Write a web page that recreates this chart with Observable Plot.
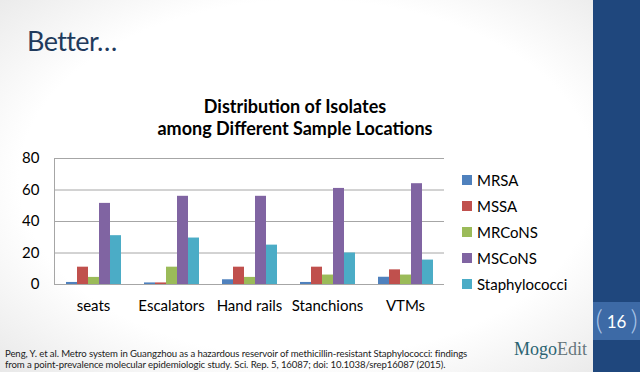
<!DOCTYPE html>
<html>
<head>
<meta charset="utf-8">
<script src="https://cdn.jsdelivr.net/npm/d3@7"></script>
<script src="https://cdn.jsdelivr.net/npm/@observablehq/plot@0.6"></script>
<style>
  html, body { margin: 0; padding: 0; }
  body {
    width: 640px; height: 372px; overflow: hidden; position: relative;
    font-family: Lato, "Open Sans", sans-serif;
    background: radial-gradient(ellipse 75% 80% at 48% 48%, #ffffff 60%, #e2e2e2 100%);
  }
  .abs { position: absolute; white-space: nowrap; }
  #slideTitle { left: 27px; top: 27px; font-size: 27px; letter-spacing: -0.6px; line-height: 1; color: #1f3a5c; }
  #chartTitle { left: 150px; width: 290px; top: 95px; text-align: center; font-weight: 700; font-size: 18px; line-height: 22px; color: #000; }
  #chart { left: 0; top: 140px; }
  #legend { left: 462px; top: 167px; font-size: 15px; color: #000; }
  #legend .row { height: 26px; display: flex; align-items: center; }
  #legend .sw { width: 10px; height: 10px; margin-right: 5px; }
  #cite { left: 5px; top: 348px; font-size: 9.6px; line-height: 11px; color: #222; letter-spacing: -0.1px; }
  #sidebar { left: 593px; top: 0; width: 47px; height: 372px; background: #1f477d; }
  #band { left: 593px; top: 302px; width: 47px; height: 38px; background: #3d6aa6; }
  #pg { left: 593px; top: 302px; width: 47px; height: 38px; color: #fff; font-size: 17px; display: flex; align-items: center; justify-content: center; }
  #pg .br { color: #a9c4e6; font-size: 28px; font-weight: 300; margin: 0 4px; position: relative; top: -2px; }
  #logo { left: 514px; top: 340px; font-family: "Liberation Serif", "DejaVu Serif", serif; font-size: 18px; line-height: 1; }
</style>
</head>
<body>
<div id="sidebar" class="abs"></div>
<div id="band" class="abs"></div>
<div id="pg" class="abs"><span class="br">(</span>16<span class="br">)</span></div>
<div id="slideTitle" class="abs">Better…</div>
<div id="chartTitle" class="abs">Distribution of Isolates<br>among Different Sample Locations</div>
<div id="chart" class="abs"></div>
<div id="legend" class="abs"></div>
<div id="cite" class="abs">Peng, Y. et al. Metro system in Guangzhou as a hazardous reservoir of methicillin-resistant Staphylococci: findings<br>from a point-prevalence molecular epidemiologic study. Sci. Rep. 5, 16087; doi: 10.1038/srep16087 (2015).</div>
<div id="logo" class="abs"><span style="color:#2b6472">Mogo</span><span style="color:#66777c">Edit</span></div>
<script>
const categories = ["seats", "Escalators", "Hand rails", "Stanchions", "VTMs"];
const seriesNames = ["MRSA", "MSSA", "MRCoNS", "MSCoNS", "Staphylococci"];
const seriesColors = ["#4f81bd", "#c0504d", "#9bbb59", "#8064a2", "#4bacc6"];
const MRSA = [1.3, 1, 3, 1.3, 4.6];
const MSSA = [11, 1, 11, 11, 9.3];
const MRCoNS = [4.5, 11, 4.5, 6, 6];
const MSCoNS = [51.5, 56, 56, 61, 64];
const Staphylococci = [31, 29.5, 25, 20, 15.5];
const yTicks = [0, 20, 40, 60, 80];

const seriesValues = [MRSA, MSSA, MRCoNS, MSCoNS, Staphylococci];
const data = [];
categories.forEach((c, i) => {
  seriesNames.forEach((s, j) => data.push({loc: c, s, v: seriesValues[j][i]}));
});

const grid = "#a6a6a6";
let marks = [
  Plot.ruleY(yTicks.slice(1), {stroke: grid, strokeWidth: 1}),
  Plot.barY(data, {fx: "loc", x: "s", y: "v", fill: "s"}),
  Plot.ruleY([0], {stroke: grid, strokeWidth: 1})
];
const opts = {
  width: 460, height: 180,
  marginLeft: 52, marginRight: 14, marginTop: 18, marginBottom: 36,
  style: {fontFamily: "Lato, sans-serif", fontSize: "15px", color: "#000", background: "transparent", overflow: "visible"},
  fx: {domain: categories, padding: 0, label: null, axis: "bottom", tickSize: 0, tickPadding: 16},
  x: {domain: seriesNames, paddingInner: 0, paddingOuter: 0.82, axis: null},
  y: {domain: [0, 80], ticks: yTicks, label: null, tickSize: 0, tickPadding: 15},
  color: {domain: seriesNames, range: seriesColors}
};
let chart;
try {
  chart = Plot.plot({...opts, marks: [...marks, Plot.frame({anchor: "left", stroke: grid, facet: "super"})]});
} catch (e) {
  chart = Plot.plot({...opts, marks});
}
document.getElementById("chart").appendChild(chart);

const legend = document.getElementById("legend");
seriesNames.forEach((s, j) => {
  const row = document.createElement("div");
  row.className = "row";
  const sw = document.createElement("div");
  sw.className = "sw";
  sw.style.background = seriesColors[j];
  const t = document.createElement("span");
  t.textContent = s;
  row.appendChild(sw); row.appendChild(t);
  legend.appendChild(row);
});
</script>
</body>
</html>
